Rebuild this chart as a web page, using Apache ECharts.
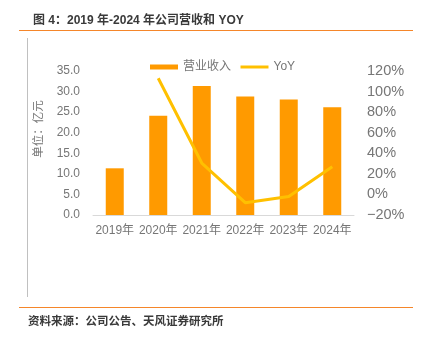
<!DOCTYPE html>
<html>
<head>
<meta charset="utf-8">
<script src="https://cdn.jsdelivr.net/npm/echarts@6/dist/echarts.min.js"></script>
<style>
html,body{margin:0;padding:0;background:#fff;}
#main{width:422px;height:337px;}
</style>
</head>
<body>
<div id="main"></div>
<script>
var categories = ['2019年','2020年','2021年','2022年','2023年','2024年'];
var revenue = [11.35, 24.1, 31.35, 28.8, 28.1, 26.2];
var yoy = [null, 113, 30.5, -8, -2, 27];
var seriesNames = ['营业收入','YoY'];
var titleText = '图 4：2019 年-2024 年公司营收和 YOY';
var sourceText = '资料来源：公司公告、天风证券研究所';
var yAxisName = '单位：亿元';

var FONT = '"Liberation Sans", Arial, "Noto Sans CJK SC", sans-serif';
var GRAY = '#767676';

var chart = echarts.init(document.getElementById('main'), null, {renderer:'canvas'});
chart.setOption({
  animation: false,
  textStyle: {fontFamily: FONT},
  title: {
    text: titleText,
    left: 28, top: 10,
    textStyle: {fontSize: 12, fontWeight: 'bold', color: '#3a3a3a', fontFamily: FONT}
  },
  legend: {
    data: [
      {name: seriesNames[0], icon: 'rect'},
      {name: seriesNames[1], itemStyle: {opacity: 0}, lineStyle: {width: 3, color: '#FFC000'}}
    ],
    left: 150, top: 61, padding: 0,
    itemWidth: 28, itemHeight: 5, itemGap: 8,
    textStyle: {fontSize: 12, color: GRAY, fontFamily: FONT}
  },
  grid: {left: 93, right: 68, top: 71, bottom: 122},
  xAxis: {
    type: 'category',
    data: categories,
    axisLine: {lineStyle: {color: '#d9d9d9', width: 1}},
    axisTick: {show: false},
    axisLabel: {fontSize: 12, color: GRAY, margin: 10, interval: 0}
  },
  yAxis: [
    {
      type: 'value', min: 0, max: 35, interval: 5,
      axisLine: {show: false}, axisTick: {show: false}, splitLine: {show: false},
      axisLabel: {fontSize: 12, color: GRAY, margin: 13, formatter: function(v){return v.toFixed(1);}}
    },
    {
      type: 'value', min: -20, max: 120, interval: 20,
      axisLine: {show: false}, axisTick: {show: false}, splitLine: {show: false},
      axisLabel: {fontSize: 14.5, color: GRAY, margin: 13, formatter: function(v){return String(v).replace('-', '\u2212') + '%';}}
    }
  ],
  series: [
    {
      name: seriesNames[0], type: 'bar', data: revenue, barWidth: 18,
      itemStyle: {color: '#FF9A00'}
    },
    {
      name: seriesNames[1], type: 'line', yAxisIndex: 1, data: yoy,
      symbol: 'none', lineStyle: {color: '#FFC000', width: 3}, itemStyle: {color: '#FFC000'}
    }
  ],
  graphic: [
    {type: 'line', shape: {x1: 19, y1: 30.5, x2: 413, y2: 30.5}, style: {stroke: '#F5862A', lineWidth: 1}},
    {type: 'line', shape: {x1: 27.5, y1: 38, x2: 27.5, y2: 297}, style: {stroke: '#c0c0c0', lineWidth: 1}},
    {type: 'line', shape: {x1: 19, y1: 307.5, x2: 413, y2: 307.5}, style: {stroke: '#F5862A', lineWidth: 1}},
    {type: 'text', x: 28, y: 322, style: {text: sourceText, font: 'bold 11.5px ' + FONT, fill: '#3a3a3a', textVerticalAlign: 'middle'}},
    {type: 'text', x: 39, y: 129, rotation: Math.PI/2, style: {text: yAxisName, font: '11.5px ' + FONT, fill: GRAY, textAlign: 'center', textVerticalAlign: 'middle'}}
  ]
});
</script>
</body>
</html>
